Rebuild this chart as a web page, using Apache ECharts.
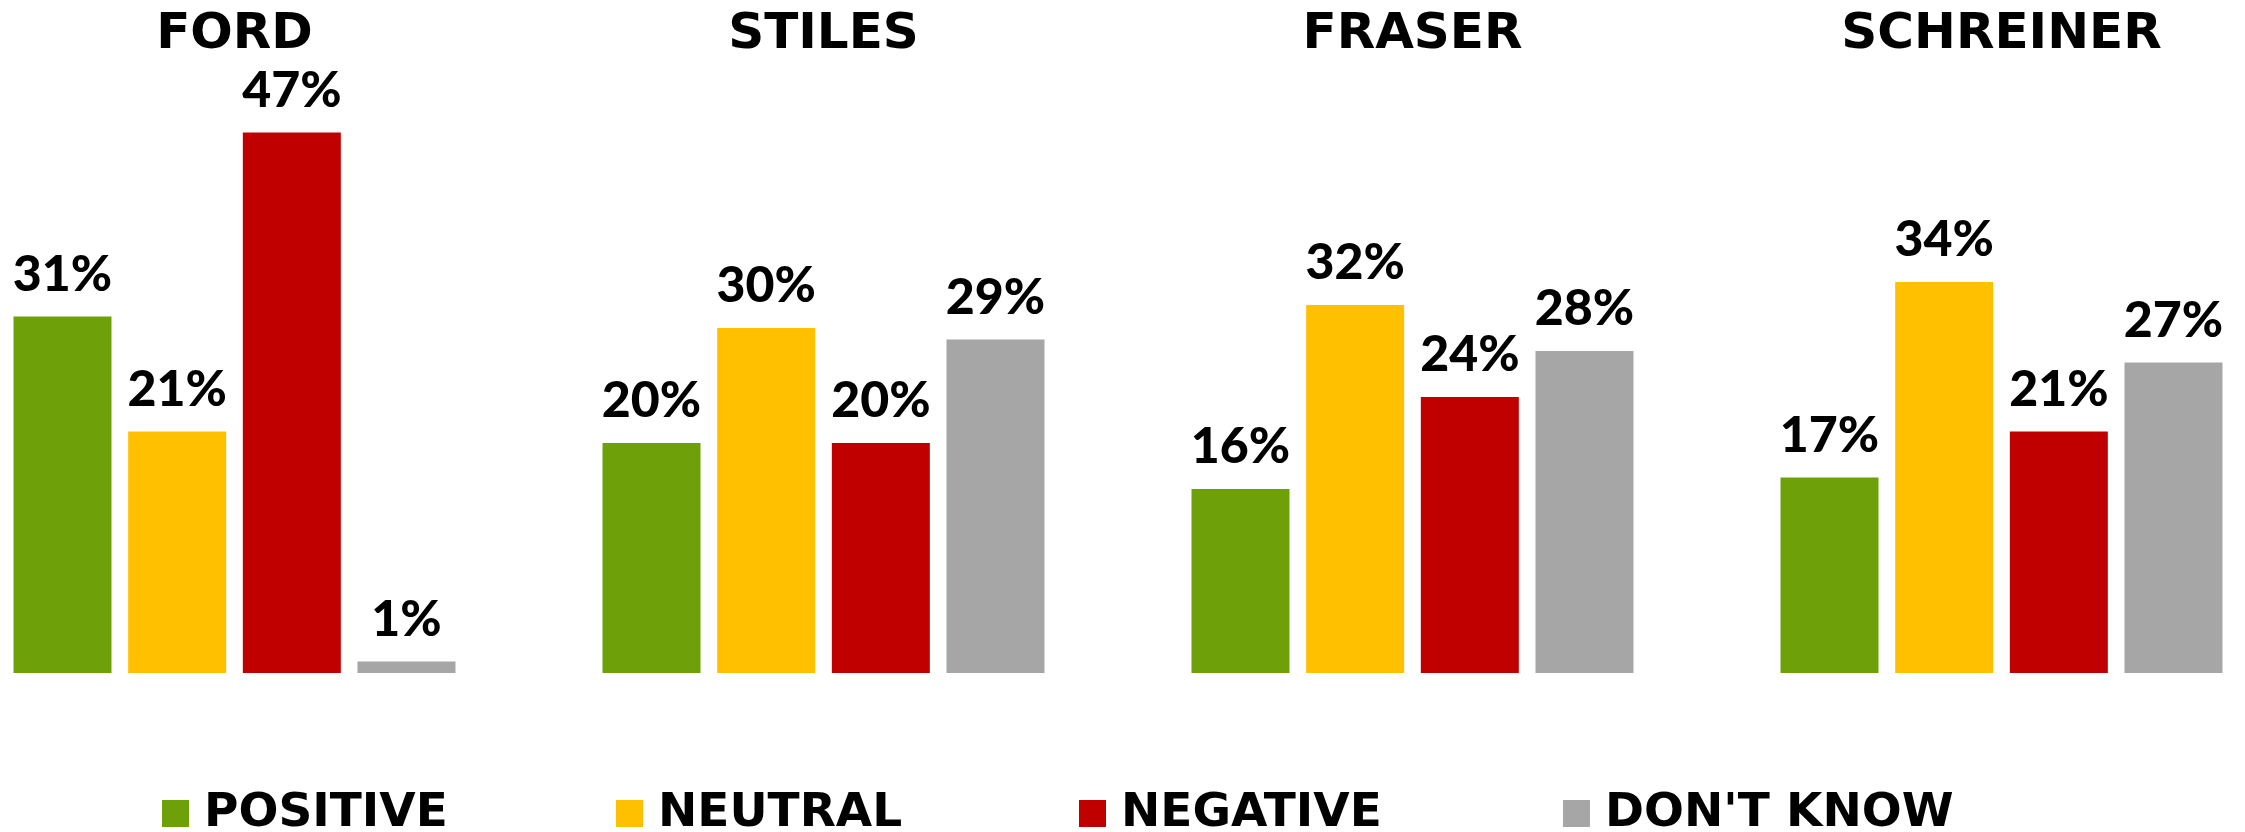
<!DOCTYPE html>
<html>
<head>
<meta charset="utf-8">
<script src="https://cdn.jsdelivr.net/npm/echarts@6/dist/echarts.min.js"></script>
<style>
html,body{margin:0;padding:0;background:#fff;}
#chart{width:2245px;height:832px;}
</style>
</head>
<body>
<div id="chart"></div>
<script>
const candidates = ['FORD', 'STILES', 'FRASER', 'SCHREINER'];
const seriesNames = ['POSITIVE', 'NEUTRAL', 'NEGATIVE', "DON'T KNOW"];
const positive = [31, 20, 16, 17];
const neutral = [21, 30, 32, 34];
const negative = [47, 20, 24, 21];
const dontKnow = [1, 29, 28, 27];
const colors = ['#6EA00A', '#FFC000', '#C00000', '#A6A6A6'];
const seriesValues = [positive, neutral, negative, dontKnow];
const legendLefts = [157, 611, 1074, 1558];

const chart = echarts.init(document.getElementById('chart'));
const option = {
  animation: false,
  backgroundColor: '#ffffff',
  grid: {
    left: -60, right: -51, top: 98, bottom: 159,
    containLabel: false, outerBoundsMode: 'none'
  },
  legend: seriesNames.map((n, i) => ({
    data: [n],
    left: legendLefts[i],
    top: 785,
    icon: 'rect',
    itemWidth: 27,
    itemHeight: 27,
    textStyle: {
      fontFamily: 'DejaVu Sans', fontWeight: 'bold', fontSize: 47, color: '#000',
      padding: [0, 0, 0, 10]
    },
    selectedMode: false
  })),
  xAxis: {
    type: 'category',
    position: 'top',
    data: candidates,
    axisLine: {show: false},
    axisTick: {show: false},
    axisLabel: {
      show: true, margin: 38, color: '#000',
      fontFamily: 'DejaVu Sans', fontWeight: 'bold', fontSize: 50
    }
  },
  yAxis: {
    type: 'value', min: 0, max: 50,
    show: false, splitLine: {show: false}
  },
  series: seriesNames.map((n, i) => ({
    name: n,
    type: 'bar',
    data: seriesValues[i],
    barWidth: 98,
    barGap: '17%',
    itemStyle: {color: colors[i]},
    label: {
      show: true, position: 'top', distance: 17,
      formatter: '{c}%', color: '#000',
      fontFamily: 'Lato', fontWeight: 900, fontSize: 50
    }
  }))
};
chart.setOption(option);
</script>
</body>
</html>
